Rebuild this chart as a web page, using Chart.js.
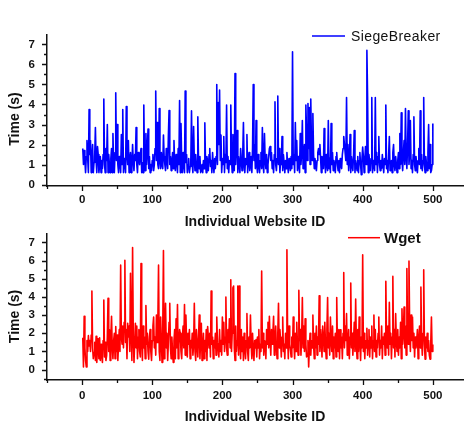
<!DOCTYPE html>
<html>
<head>
<meta charset="utf-8">
<script src="https://cdn.jsdelivr.net/npm/chart.js@4"></script>
<style>
  html, body { margin: 0; padding: 0; background: #fff; }
  body { width: 464px; height: 426px; position: relative; overflow: hidden; }
  canvas { position: absolute; left: 0; }
  #topChart { top: 0; }
  #bottomChart { top: 215px; }
</style>
</head>
<body>
<canvas id="topChart" width="464" height="232"></canvas>
<canvas id="bottomChart" width="464" height="211"></canvas>
<script>
// Load time per website (IDs 1..500)
const siegeBreakerTimes = [
  1.8, 1.0, 1.7, 1.2, 0.6, 1.4, 2.2, 1.3, 0.6, 3.75,
  1.5, 2.2, 0.6, 1.3, 2.0, 0.6, 1.1, 1.4, 2.85, 1.2,
  0.6, 1.9, 1.5, 0.6, 1.0, 1.4, 0.6, 1.2, 0.8, 1.5,
  4.27, 1.0, 0.6, 1.8, 1.2, 3.0, 0.6, 1.5, 1.0, 0.6,
  1.3, 1.8, 0.6, 2.55, 1.0, 0.6, 1.6, 4.58, 1.2, 3.0,
  1.0, 0.6, 1.4, 1.1, 0.6, 2.5, 1.0, 3.75, 0.6, 1.3,
  1.1, 0.6, 3.9, 1.5, 1.0, 2.2, 0.6, 1.2, 1.6, 0.6,
  1.0, 2.0, 1.1, 0.7, 1.5, 1.2, 2.85, 1.0, 0.6, 1.6,
  1.3, 1.0, 1.5, 1.8, 0.6, 1.1, 0.6, 3.97, 1.2, 0.7,
  2.55, 1.0, 1.6, 2.77, 0.8, 1.4, 0.6, 1.0, 0.7, 1.2,
  1.5, 0.7, 1.0, 1.8, 4.67, 1.2, 3.1, 1.0, 0.8, 3.8,
  1.2, 0.8, 1.6, 1.0, 0.8, 2.47, 1.4, 1.0, 0.7, 1.8,
  1.2, 0.8, 2.4, 3.7, 1.0, 1.4, 0.7, 1.1, 1.6, 0.8,
  2.2, 1.0, 0.7, 1.5, 1.2, 0.6, 1.8, 1.0, 4.2, 0.6,
  3.05, 1.2, 0.6, 1.6, 1.0, 0.6, 4.67, 1.1, 1.5, 0.6,
  1.0, 1.3, 0.6, 0.9, 1.2, 3.68, 1.0, 0.6, 2.9, 1.2,
  0.7, 1.5, 1.0, 0.6, 3.38, 1.2, 0.8, 1.4, 0.6, 0.7,
  1.0, 0.6, 1.2, 0.8, 3.08, 1.0, 0.6, 1.4, 1.1, 0.7,
  1.5, 1.8, 0.9, 1.2, 0.6, 1.6, 1.0, 0.6, 1.3, 0.8,
  1.4, 5.0, 1.0, 4.1, 2.0, 4.72, 1.2, 2.47, 0.6, 1.3,
  1.0, 2.4, 0.6, 1.5, 1.1, 3.97, 0.8, 1.4, 0.6, 1.2,
  1.0, 3.97, 1.3, 0.6, 2.5, 1.2, 0.7, 5.55, 1.0, 2.0,
  2.7, 0.6, 1.4, 1.0, 0.6, 1.8, 1.2, 0.7, 1.5, 3.1,
  1.0, 0.6, 1.3, 1.0, 2.5, 0.6, 1.2, 1.6, 0.7, 1.0,
  1.4, 0.6, 1.8, 5.0, 1.2, 2.0, 0.8, 3.2, 1.0, 0.6,
  1.5, 1.0, 0.6, 1.2, 1.6, 0.8, 2.85, 1.0, 0.6, 2.55,
  1.2, 0.8, 1.5, 0.6, 1.0, 1.4, 1.8, 1.9, 1.2, 1.6,
  0.8, 1.2, 0.6, 1.5, 4.13, 1.0, 0.7, 1.3, 4.42, 1.0,
  1.8, 0.6, 1.2, 1.0, 2.4, 0.7, 1.5, 1.1, 0.6, 1.2,
  0.8, 1.6, 1.0, 0.6, 1.3, 1.0, 0.7, 1.4, 0.8, 6.63,
  1.0, 1.5, 0.6, 3.1, 1.2, 2.2, 0.7, 1.4, 1.0, 0.6,
  2.55, 1.0, 1.6, 3.2, 0.8, 1.4, 2.0, 0.6, 3.97, 2.6,
  1.2, 4.05, 1.8, 3.85, 1.0, 4.27, 2.0, 1.2, 3.55, 1.5,
  0.8, 1.3, 1.0, 0.7, 1.2, 1.6, 1.8, 1.5, 2.0, 1.3,
  0.6, 1.4, 1.0, 0.8, 2.8, 1.2, 0.6, 1.5, 1.0, 0.7,
  3.2, 0.8, 1.3, 0.6, 3.05, 1.0, 1.6, 0.7, 1.2, 1.0,
  0.6, 1.4, 1.6, 1.0, 0.7, 1.2, 0.6, 1.3, 1.0, 0.8,
  1.5, 1.8, 2.4, 2.0, 1.6, 1.2, 4.35, 1.0, 2.0, 0.7,
  1.2, 2.5, 0.6, 1.4, 1.0, 0.7, 1.5, 2.7, 0.6, 1.2,
  1.0, 0.7, 1.4, 0.6, 1.2, 1.6, 1.0, 0.5, 1.3, 1.88,
  1.4, 0.6, 1.2, 1.9, 1.0, 6.7, 4.38, 0.6, 1.5, 1.0,
  0.7, 1.3, 4.35, 0.6, 1.2, 1.0, 0.7, 4.35, 1.0, 1.6,
  0.6, 1.4, 2.4, 1.0, 0.7, 1.2, 0.8, 1.5, 1.0, 0.6,
  1.3, 1.0, 3.97, 0.8, 1.2, 0.6, 1.5, 2.4, 0.7, 1.0,
  1.2, 0.6, 1.6, 2.0, 1.0, 0.7, 1.4, 1.0, 0.6, 1.2,
  1.6, 0.8, 2.55, 1.0, 3.58, 1.2, 0.7, 1.6, 2.2, 1.0,
  3.8, 1.4, 0.8, 2.0, 3.68, 1.0, 1.6, 3.2, 0.8, 1.2,
  0.6, 1.5, 3.38, 1.0, 0.7, 1.4, 1.0, 0.6, 1.2, 1.8,
  1.0, 3.68, 0.8, 1.5, 0.7, 1.2, 4.35, 1.0, 0.6, 1.4,
  1.0, 0.7, 1.6, 3.0, 0.8, 2.0, 0.6, 0.7, 1.0, 3.05
];

const wgetTimes = [
  1.75, 0.15, 2.94, 1.2, 0.5, 0.15, 1.6, 1.0, 1.87, 1.3,
  1.6, 1.0, 1.9, 4.33, 1.2, 0.6, 0.95, 1.5, 0.5, 1.83,
  0.4, 1.2, 1.7, 0.6, 1.75, 0.5, 1.4, 0.8, 0.4, 1.6,
  3.83, 0.7, 1.5, 0.5, 0.77, 1.8, 3.92, 1.0, 2.2, 0.5,
  1.8, 2.94, 1.2, 0.6, 1.6, 2.0, 0.6, 2.37, 1.0, 1.9,
  0.5, 1.4, 2.2, 1.0, 5.75, 1.8, 1.4, 2.4, 1.2, 2.6,
  6.02, 1.5, 2.2, 0.6, 2.55, 1.8, 2.4, 1.0, 5.3, 2.0,
  0.5, 6.72, 1.8, 0.4, 1.5, 2.55, 1.2, 2.4, 0.6, 1.8,
  2.2, 1.0, 0.7, 5.84, 1.6, 0.5, 2.4, 1.2, 1.8, 0.6,
  3.53, 1.4, 2.0, 1.0, 0.58, 1.8, 2.2, 1.0, 0.5, 1.6,
  2.4, 2.9, 1.2, 1.8, 0.8, 3.0, 1.5, 2.6, 5.75, 1.0,
  0.5, 2.9, 1.6, 0.4, 2.2, 6.55, 0.6, 1.8, 3.65, 1.2,
  2.0, 0.5, 1.5, 2.6, 3.65, 1.2, 0.6, 1.8, 1.0, 0.4,
  1.6, 2.2, 0.6, 2.8, 1.2, 3.58, 0.6, 1.4, 2.2, 2.0,
  1.0, 0.6, 1.8, 2.4, 1.2, 3.58, 0.8, 3.0, 1.5, 0.7,
  2.0, 1.4, 2.2, 0.6, 1.6, 1.2, 2.0, 0.8, 1.4, 3.65,
  1.0, 0.5, 2.2, 1.4, 0.7, 1.8, 3.0, 0.6, 1.6, 2.55,
  0.5, 1.2, 2.0, 0.6, 1.6, 1.0, 2.2, 0.5, 2.37, 1.8,
  1.2, 2.0, 0.7, 4.33, 1.4, 1.8, 0.6, 1.6, 1.2, 2.0,
  0.8, 2.9, 1.5, 1.2, 0.7, 2.2, 1.0, 1.6, 0.8, 2.9,
  1.4, 2.6, 1.0, 1.8, 4.0, 1.2, 0.8, 2.2, 1.5, 2.8,
  1.2, 4.95, 1.0, 2.0, 4.5, 4.6, 1.2, 0.5, 2.4, 1.0,
  1.6, 4.6, 0.8, 4.6, 1.5, 0.6, 2.2, 1.0, 1.8, 0.5,
  2.0, 1.2, 0.6, 1.6, 3.08, 1.0, 0.5, 1.8, 1.2, 3.0,
  1.4, 0.6, 2.0, 1.0, 0.5, 1.6, 1.2, 1.66, 0.7, 1.8,
  1.2, 2.2, 0.6, 1.4, 1.0, 5.43, 1.2, 2.0, 0.8, 1.6,
  1.48, 0.6, 2.2, 1.4, 2.6, 1.2, 2.94, 1.6, 0.8, 2.2,
  1.4, 2.0, 2.94, 0.8, 1.6, 2.4, 1.2, 0.6, 2.0, 3.65,
  1.2, 2.2, 1.6, 0.7, 1.8, 2.9, 1.0, 1.4, 0.6, 2.0,
  1.2, 6.6, 1.8, 0.6, 2.4, 1.4, 1.12, 0.7, 1.8, 1.2,
  2.9, 1.4, 0.6, 2.0, 1.0, 2.6, 1.4, 0.8, 4.36, 1.6,
  2.2, 0.8, 1.8, 3.97, 1.2, 2.4, 1.0, 2.8, 1.4, 0.7,
  0.77, 1.6, 0.15, 1.2, 2.0, 0.8, 1.6, 1.2, 3.0, 1.4,
  0.6, 2.0, 1.2, 2.4, 0.8, 1.8, 1.4, 4.06, 1.0, 2.2,
  1.6, 0.7, 2.4, 1.92, 1.0, 2.6, 1.4, 0.6, 2.2, 3.97,
  1.2, 2.0, 0.8, 2.9, 1.6, 1.0, 2.4, 0.6, 1.8, 1.2,
  2.0, 0.7, 3.97, 1.4, 1.0, 2.2, 0.6, 2.19, 1.2, 1.8,
  0.6, 2.0, 5.34, 1.2, 2.4, 1.6, 3.08, 0.8, 1.4, 2.2,
  0.6, 1.8, 4.77, 1.2, 2.0, 0.8, 1.6, 2.6, 1.0, 3.88,
  1.4, 0.6, 2.2, 1.0, 2.9, 1.6, 0.5, 1.8, 1.2, 6.32,
  1.0, 2.0, 0.6, 1.6, 1.2, 2.28, 0.8, 1.6, 2.2, 0.7,
  1.8, 1.2, 2.4, 0.6, 1.6, 3.0, 1.0, 2.2, 0.7, 1.6,
  1.2, 2.0, 2.9, 0.8, 1.6, 1.2, 2.4, 0.6, 1.8, 1.4,
  2.0, 0.8, 4.86, 1.6, 1.2, 2.4, 0.8, 3.7, 1.4, 2.0,
  0.6, 1.8, 5.13, 1.2, 2.2, 0.7, 3.08, 1.6, 1.0, 2.2,
  0.8, 1.8, 1.2, 2.6, 0.6, 3.35, 1.4, 2.0, 3.44, 1.2,
  2.4, 0.8, 5.57, 2.0, 1.4, 5.97, 2.2, 1.0, 3.0, 1.6,
  2.9, 1.2, 2.0, 0.7, 1.8, 1.2, 1.57, 2.2, 0.6, 1.6,
  2.4, 1.2, 4.54, 1.6, 0.8, 2.0, 5.49, 1.4, 0.58, 1.8,
  1.2, 2.0, 1.0, 1.6, 0.8, 0.58, 1.4, 2.9, 1.0, 1.39
];

const websiteIds = siegeBreakerTimes.map((_, i) => i + 1);
const xTickValues = [0, 100, 200, 300, 400, 500];
const yTickValues = [0, 1, 2, 3, 4, 5, 6, 7];

const FONT = "'Liberation Sans', Arial, sans-serif";

// Origin-style tick marks, rotated y title and inline legend
const decorPlugin = {
  id: 'decor',
  afterDraw(chart, args, opts) {
    const { ctx, chartArea: area } = chart;
    const x = chart.scales.x, y = chart.scales.y;
    ctx.save();
    ctx.strokeStyle = '#111';
    ctx.lineWidth = 1.3;
    ctx.beginPath();
    for (let v = -50; v <= 500; v += 50) {
      const px = Math.round(x.getPixelForValue(v)) + 0.5;
      const len = v % 100 === 0 ? 5 : 3;
      ctx.moveTo(px, area.bottom);
      ctx.lineTo(px, area.bottom + len);
    }
    for (let v = Math.ceil(y.min * 2) / 2; v <= y.max; v += 0.5) {
      const py = Math.round(y.getPixelForValue(v)) + 0.5;
      const len = Number.isInteger(v) ? 5 : 3;
      ctx.moveTo(area.left, py);
      ctx.lineTo(area.left - len, py);
    }
    ctx.stroke();

    // y axis title
    ctx.fillStyle = '#111';
    ctx.font = 'bold 14px ' + FONT;
    ctx.textAlign = 'center';
    ctx.textBaseline = 'middle';
    ctx.translate(15, (area.top + area.bottom) / 2 + opts.titleShift);
    ctx.rotate(-Math.PI / 2);
    ctx.fillText('Time (s)', 0, 0);
    ctx.setTransform(1, 0, 0, 1, 0, 0);

    // legend
    const lg = opts.legend;
    ctx.strokeStyle = lg.color;
    ctx.lineWidth = 1.5;
    ctx.beginPath();
    ctx.moveTo(lg.x1, lg.y);
    ctx.lineTo(lg.x2, lg.y);
    ctx.stroke();
    ctx.fillStyle = '#111';
    ctx.font = lg.font;
    ctx.textAlign = 'left';
    ctx.letterSpacing = lg.spacing;
    ctx.fillText(lg.text, lg.textX, lg.y + 1);
    ctx.restore();
  }
};

function makePanel(canvasId, label, values, color, yMin, panel) {
  return new Chart(document.getElementById(canvasId), {
    type: 'line',
    data: {
      datasets: [{
        label: label,
        data: websiteIds.map((id, i) => ({ x: id, y: values[i] })),
        borderColor: color,
        borderWidth: 1.6,
        borderJoinStyle: 'round',
        pointRadius: 0,
        tension: 0,
        fill: false
      }]
    },
    options: {
      responsive: false,
      animation: false,
      events: [],
      layout: { padding: { top: panel.top, right: 1, left: 0, bottom: 0 } },
      plugins: {
        legend: { display: false },
        tooltip: { enabled: false },
        decor: { titleShift: panel.titleShift, legend: panel.legend }
      },
      scales: {
        x: {
          type: 'linear',
          min: -50,
          max: 543,
          afterFit: s => { s.height = panel.xHeight; },
          afterBuildTicks: s => { s.ticks = xTickValues.map(v => ({ value: v })); },
          grid: { display: false, drawTicks: false },
          border: { display: true, color: '#111', width: 1.5 },
          ticks: {
            autoSkip: false,
            maxRotation: 0,
            padding: panel.xTickPad,
            color: '#111',
            font: { family: FONT, size: 11.5, weight: 'bold' }
          },
          title: {
            display: true,
            text: 'Individual Website ID',
            color: '#111',
            padding: { top: 0, bottom: panel.xTitlePad },
            font: { family: FONT, size: 14, weight: 'bold' }
          }
        },
        y: {
          min: yMin,
          max: 7.47,
          afterFit: s => { s.width = 47; },
          afterBuildTicks: s => { s.ticks = yTickValues.map(v => ({ value: v })); },
          grid: { display: false, drawTicks: false },
          border: { display: true, color: '#111', width: 1.5 },
          ticks: {
            padding: 12,
            color: '#111',
            font: { family: FONT, size: 11.5, weight: 'bold' }
          }
        }
      }
    },
    plugins: [decorPlugin]
  });
}

makePanel('topChart', 'SiegeBreaker', siegeBreakerTimes, '#0000ff', -0.07, {
  top: 35, xHeight: 46, xTickPad: 7, xTitlePad: 1.6, titleShift: 8.5,
  legend: { text: 'SiegeBreaker', color: '#0000ff', x1: 312, x2: 345, y: 36,
            textX: 351, font: '14px ' + FONT, spacing: '0.4px' }
});

makePanel('bottomChart', 'Wget', wgetTimes, '#ff0000', -0.57, {
  top: 14, xHeight: 46, xTickPad: 9, xTitlePad: 0.6, titleShift: 9.5,
  legend: { text: 'Wget', color: '#ff0000', x1: 348, x2: 380, y: 22.7,
            textX: 384, font: 'bold 15px ' + FONT, spacing: '0px' }
});
</script>
</body>
</html>
